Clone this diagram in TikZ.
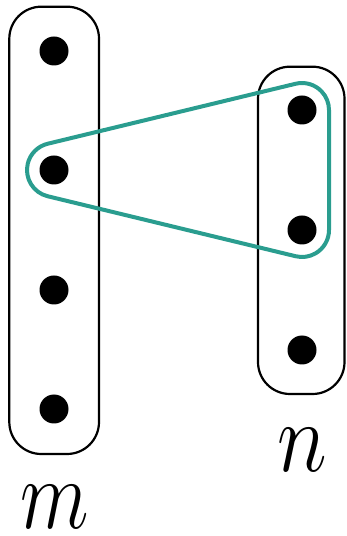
\RequirePackage{fix-cm}
\documentclass[tikz,border=0pt]{standalone}
\usetikzlibrary{calc}
\definecolor{teal1}{HTML}{2A9D8F}
\begin{document}
\begin{tikzpicture}[x=1pt,y=1pt,
  setbox/.style={draw=black,line width=2.2pt,rounded corners=32pt},
  dot/.style={circle,fill=black,inner sep=0pt,minimum size=29pt},
  lab/.style={inner sep=0pt,font=\fontsize{100}{100}\selectfont}]
\useasboundingbox (0,0) rectangle (346,536);
% sets
\draw[setbox] (9.3,82) rectangle (99,529.3);
\draw[setbox] (258,142) rectangle (344.5,469.3);
% dots
\node[dot] (m1) at (54,485) {};
\node[dot] (m2) at (54,366) {};
\node[dot] (m3) at (54,246) {};
\node[dot] (m4) at (54,127) {};
\node[dot] (n1) at (302,426) {};
\node[dot] (n2) at (302,306) {};
\node[dot] (n3) at (302,186) {};
% hyperedge
\draw[teal1,line width=4pt,line join=round]
  ($(m2.center)+(103.6:27)$) -- ($(n1.center)+(103.6:27)$)
  arc[start angle=103.6,end angle=0,radius=27]
  -- ($(n2.center)+(0:27)$)
  arc[start angle=0,end angle=-103.6,radius=27]
  -- ($(m2.center)+(256.4:27)$)
  arc[start angle=256.4,end angle=103.6,radius=27] -- cycle;
% labels
\node[lab,anchor=base] (lm) at (55,7) {\scalebox{0.8}[1]{$m$}};
\node[lab,anchor=base] (ln) at (302,64) {\scalebox{0.85}[1]{$n$}};
\end{tikzpicture}
\end{document}
